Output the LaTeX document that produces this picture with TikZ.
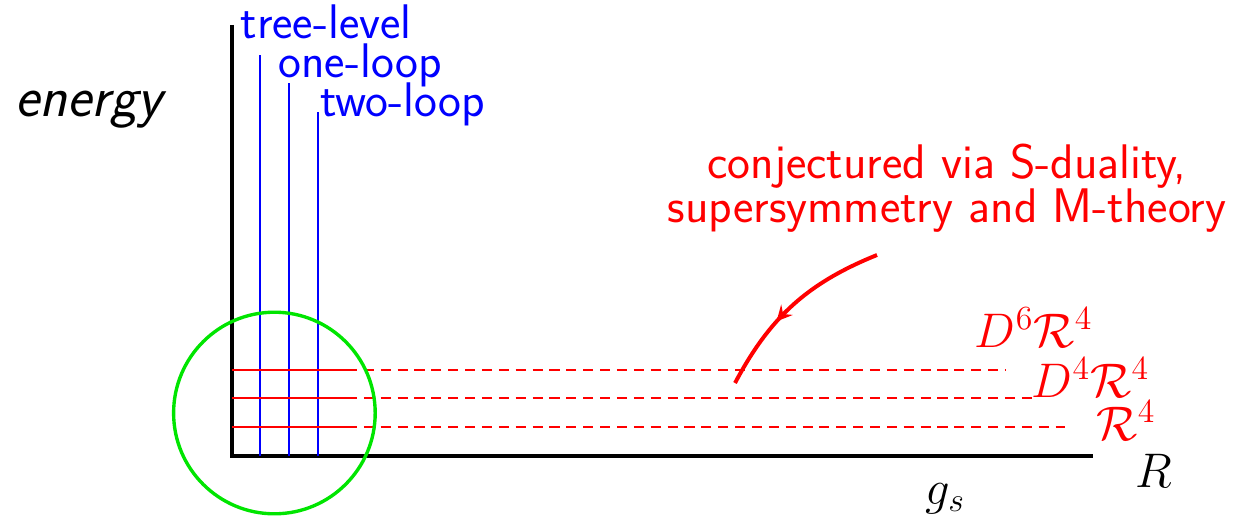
\documentclass[tikz,border=0pt]{standalone}
\usepackage{amsmath,amssymb}
\usepackage{xcolor}
\usetikzlibrary{arrows,calc,decorations.markings}

\begin{document}
\begin{tikzpicture}[>=latex,scale=1.0,
    axis/.style={line width=1.1pt,black},
    loopline/.style={line width=0.8pt,blue},
    termline/.style={line width=0.8pt,red},
    termdash/.style={line width=0.8pt,red,dash pattern=on 3.6pt off 2.4pt},
    txt/.style={inner sep=0pt,font=\sffamily\fontsize{17.28}{15.6}\selectfont},
    mth/.style={inner sep=0pt,font=\fontsize{17.6}{20}\selectfont}]
    \useasboundingbox (-2.9,-0.7625) rectangle (12.525,5.7);
    % axes
    \coordinate (origin) at (0,0);
    \coordinate (ytop) at (0,5.3875);
    \coordinate (xend) at (10.7625,0);
    \draw[axis] (ytop) -- (origin) -- (xend);
    \node[txt,anchor=base west,font=\sffamily\itshape\fontsize{20.5}{22}\selectfont] (energy) at (-2.7125,4.2375) {energy};
    \node[mth,anchor=base west,black] (glabel) at (8.6625,-0.6) {$g_s$};
    \node[mth,anchor=base west,black] (rlabel) at (11.2875,-0.3875) {$R$};
    % loop orders
    \foreach \x/\top/\name in {0.35/5.0125/tree,0.7125/4.6625/one,1.075/4.3/two}
      \draw[loopline] (\x,0) coordinate (\name-bot) -- (\x,\top) coordinate (\name-top);
    \node[txt,blue,anchor=base west] (treelabel) at (0.1,5.2125) {tree-level};
    \node[txt,blue,anchor=base west] (onelabel) at (0.575,4.725) {one-loop};
    \node[txt,blue,anchor=base west] (twolabel) at (1.1,4.25) {two-loop};
    % couplings
    \foreach \y/\len/\name in {1.075/9.6625/dsix,0.725/10.0375/dfour,0.3625/10.4125/rfour}{
      \draw[termline] (0,\y) -- (1.4375,\y) coordinate (\name-mid);
      \draw[termdash] (\name-mid) -- (\len,\y) coordinate (\name-end);
    }
    \node[mth,red,anchor=base west] (dsixlabel) at (9.28,1.3625) {$D^6\mathcal{R}^4$};
    \node[mth,red,anchor=base west] (dfourlabel) at (9.99,0.7375) {$D^4\mathcal{R}^4$};
    \node[mth,red,anchor=base west] (rfourlabel) at (10.8,0.2) {$\mathcal{R}^4$};
    % perturbative region
    \draw[green!90!black,line width=1.2pt] (0.53,0.5375) circle (1.26);
    % conjecture
    \node[txt,red,align=center,anchor=base] (conj) at (8.9375,2.925) {conjectured via S-duality,\\supersymmetry and M-theory};
    \coordinate (arrowstart) at (8.0625,2.5125);
    \coordinate (arrowend) at (6.2875,0.9125);
    \draw[red,line width=1.4pt,postaction={decorate,decoration={markings,mark=at position 0.62 with {\arrow{stealth}}}}]
      (arrowstart) to[bend right=20] (arrowend);
  \end{tikzpicture}
\end{document}
